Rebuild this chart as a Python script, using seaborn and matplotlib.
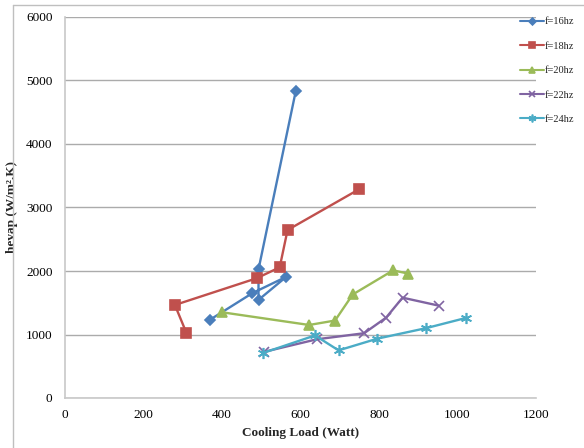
import pandas as pd
import numpy as np
import matplotlib.pyplot as plt
import seaborn as sns
from matplotlib.lines import Line2D

# values (cooling load in W, hevap in W/m2.K)
labels = ['f=16hz', 'f=18hz', 'f=20hz', 'f=22hz', 'f=24hz']
load_16 = [370, 477, 564, 493, 493, 588]
hevap_16 = [1235, 1650, 1910, 1545, 2025, 4835]
load_18 = [309, 280, 488, 547, 567, 750]
hevap_18 = [1030, 1465, 1885, 2058, 2645, 3290]
load_20 = [400, 622, 688, 733, 836, 874]
hevap_20 = [1350, 1150, 1220, 1630, 2010, 1960]
load_22 = [506, 642, 762, 818, 860, 952]
hevap_22 = [725, 925, 1020, 1265, 1580, 1455]
load_24 = [505, 637, 697, 796, 920, 1021]
hevap_24 = [710, 985, 750, 935, 1100, 1260]

loads = [load_16, load_18, load_20, load_22, load_24]
hevaps = [hevap_16, hevap_18, hevap_20, hevap_22, hevap_24]

colors = ['#4A7EBB', '#C0504D', '#9BBB59', '#8064A2', '#4BACC6']
markers = ['D', 's', '^', 'x', (6, 2, 0)]
msizes = [5, 7, 7, 7, 8]

sns.set_style('white')
plt.rcParams['font.family'] = ['Liberation Serif', 'DejaVu Serif']

fig = plt.figure(figsize=(5.84, 4.48), dpi=100)
ax = fig.add_axes([65 / 584, 1 - 398 / 448, (536 - 65) / 584, (398 - 17) / 448])

for lab, xs, ys, c, m, ms in zip(labels, loads, hevaps, colors, markers, msizes):
    df = pd.DataFrame({'load': xs, 'hevap': ys})
    sns.lineplot(data=df, x='load', y='hevap', sort=False, estimator=None,
                 color=c, marker=m, markersize=ms, markeredgecolor=c,
                 markerfacecolor=c, markeredgewidth=1.2, linewidth=1.7,
                 label=lab, ax=ax)

ax.set_xlim(0, 1200)
ax.set_ylim(0, 6000)
ax.set_xticks(np.arange(0, 1201, 200))
ax.set_yticks(np.arange(0, 6001, 1000))
ax.yaxis.grid(True, color='#ABABAB', linewidth=1)
ax.xaxis.grid(False)
for s in ['top', 'right']:
    ax.spines[s].set_visible(False)
for s in ['left', 'bottom']:
    ax.spines[s].set_color('#C8C8C8')
    ax.spines[s].set_linewidth(1.2)
ax.tick_params(axis='both', labelsize=9.5, colors='black', length=0, pad=8)
ax.tick_params(axis='y', length=4, color='#C8C8C8', pad=5)

ax.set_xlabel('Cooling Load (Watt)', fontsize=9.5, fontweight='bold', labelpad=4)
ax.set_ylabel('hevap (W/m².K)', fontsize=9.5, fontweight='bold', labelpad=6)

handles, labs = ax.get_legend_handles_labels()
leg = ax.legend(handles, labs, loc='upper left', bbox_to_anchor=(516 / 584, 1 - 13 / 448),
                bbox_transform=fig.transFigure, frameon=False, fontsize=7.5,
                handlelength=2.3, handletextpad=0.1, labelspacing=1.45,
                markerscale=0.7, borderaxespad=0)
for h in leg.get_lines():
    h.set_linewidth(1.5)

# outer chart border (only left and top edges fall inside the image)
fig.add_artist(Line2D([13 / 584, 13 / 584], [0, 1 - 5 / 448], transform=fig.transFigure,
                      color='#BFBFBF', linewidth=1))
fig.add_artist(Line2D([13 / 584, 1], [1 - 5 / 448, 1 - 5 / 448], transform=fig.transFigure,
                      color='#BFBFBF', linewidth=1))

fig.savefig('out.png', dpi=100)
